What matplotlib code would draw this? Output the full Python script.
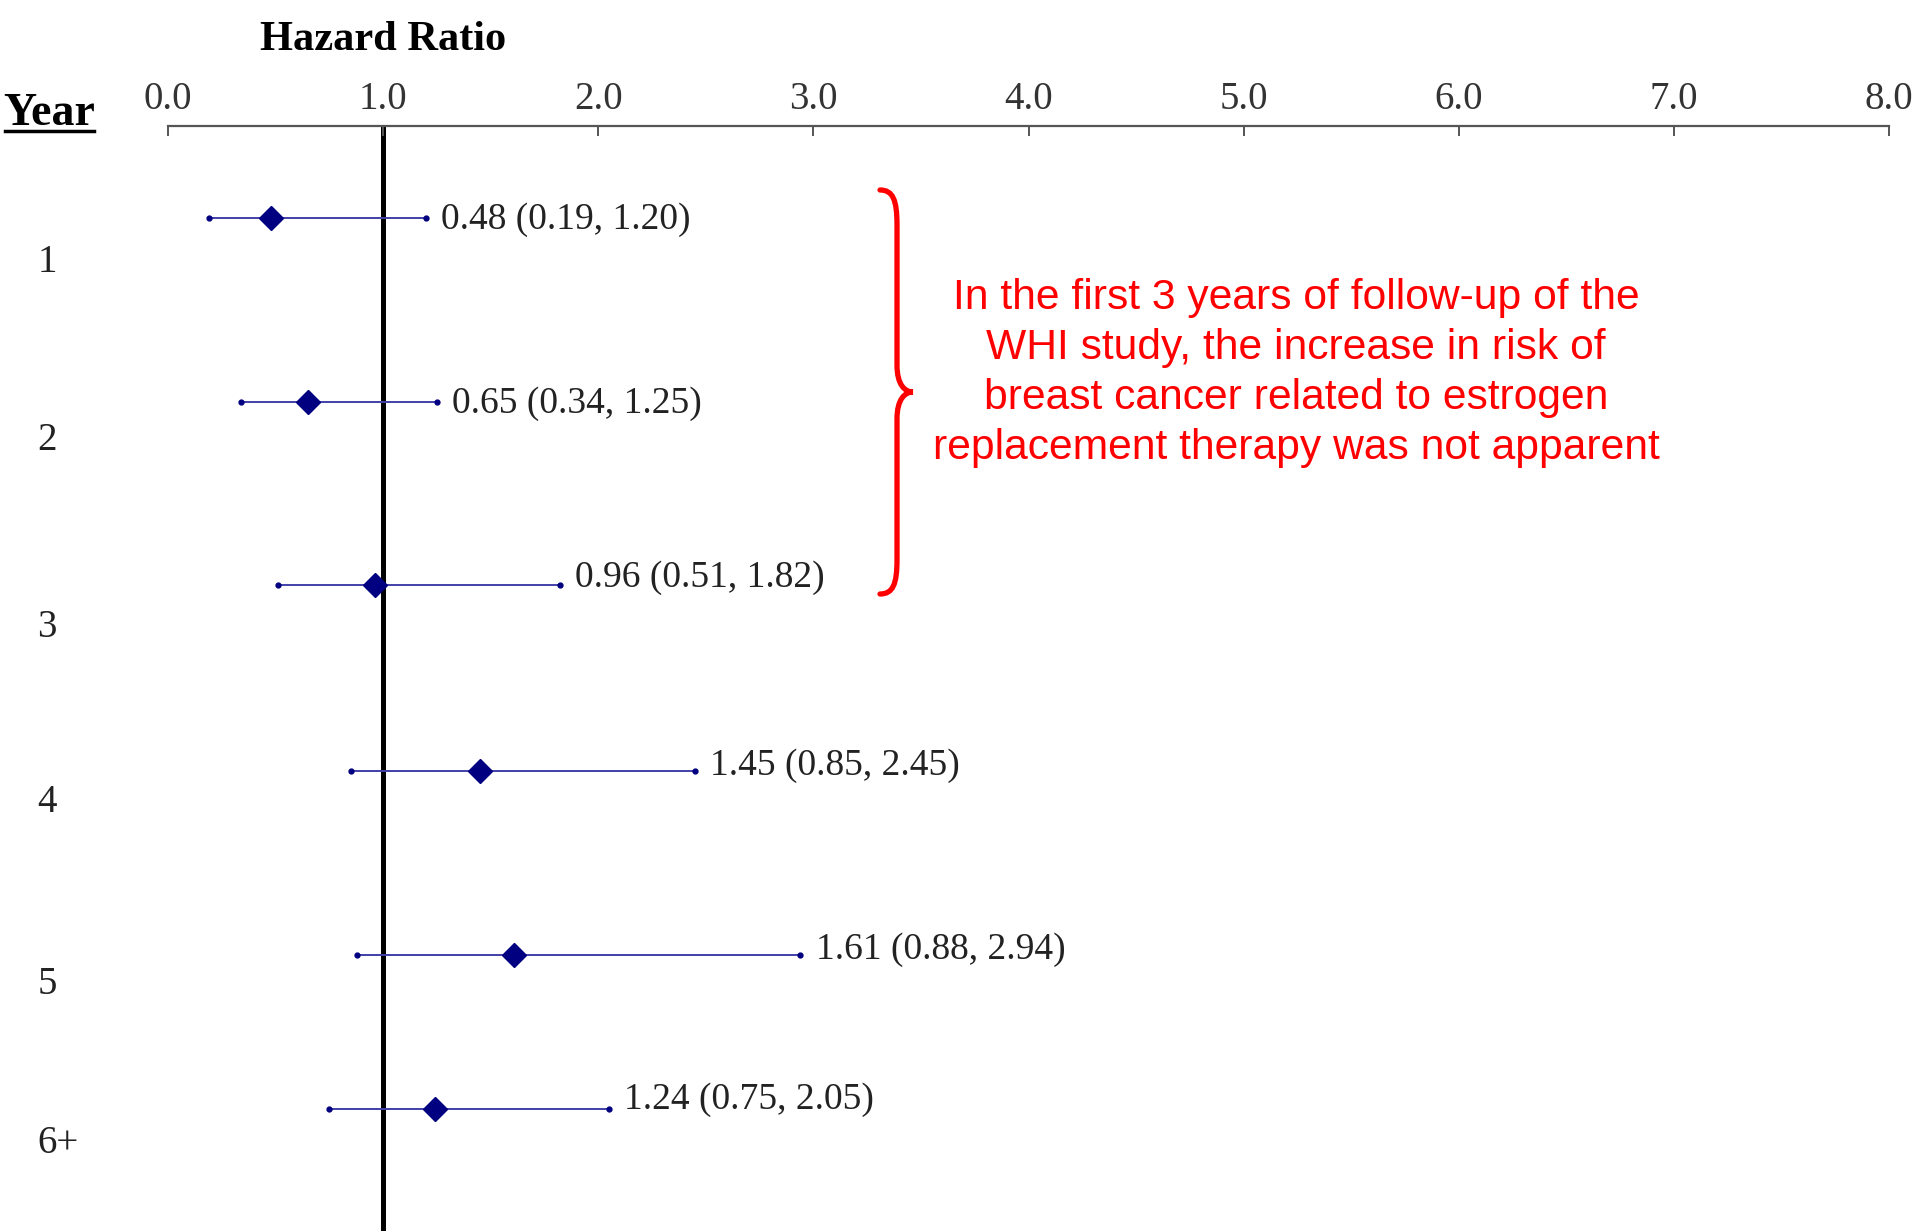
# Forest plot: WHI estrogen trial, breast cancer hazard ratio by year
import matplotlib
matplotlib.use("Agg")
import matplotlib.pyplot as plt
from matplotlib.path import Path
from matplotlib.patches import PathPatch
from matplotlib.lines import Line2D
from matplotlib.transforms import Affine2D

# ── data ───────────────────────────────────────────────
years = ["1", "2", "3", "4", "5", "6+"]
hr    = [0.48, 0.65, 0.96, 1.45, 1.61, 1.24]
lower = [0.19, 0.34, 0.51, 0.85, 0.88, 0.75]
upper = [1.20, 1.25, 1.82, 2.45, 2.94, 2.05]
x_ticks = [0, 1, 2, 3, 4, 5, 6, 7, 8]
note = ("In the first 3 years of follow-up of the\n"
        "WHI study, the increase in risk of\n"
        "breast cancer related to estrogen\n"
        "replacement therapy was not apparent")

# ── layout (row positions, label nudges) ───────────────
row_pos = [0, 1, 1.995, 3.005, 4.005, 4.84]
lab_dy  = [0.01, 0.01, -0.04, -0.03, -0.03, -0.05]
year_dy = [0.24, 0.21, 0.23, 0.17, 0.16, 0.19]

SERIF = "Liberation Serif"
SANS = "Liberation Sans"
NAVY = "#000080"
CI_COL = "#4040a8"

fig = plt.figure(figsize=(19.2, 12.31), dpi=100)
W, H = 1920, 1231
px = Affine2D().scale(1 / W, -1 / H).translate(0, 1) + fig.transFigure

ax = fig.add_axes([168 / W, 0, (1889 - 168) / W, 1 - 126 / H])
ax.set_xlim(0, 8)
ax.set_ylim(5.505, -0.5)

for i in range(len(years)):
    y = row_pos[i]
    ax.plot([lower[i], upper[i]], [y, y], color=CI_COL, lw=1.4, zorder=2)
    ax.plot([lower[i], upper[i]], [y, y], "o", color=NAVY, ms=3.5, zorder=3)
    ax.plot(hr[i], y, "D", color=NAVY, ms=12, zorder=4)
    ax.annotate(f"{hr[i]:.2f} ({lower[i]:.2f}, {upper[i]:.2f})",
                xy=(upper[i], y + lab_dy[i]), xytext=(11, 0),
                textcoords="offset points", ha="left", va="center",
                fontsize=27, family=SERIF, color="#222222")
    ax.text(-0.607, y + year_dy[i], years[i], ha="left", va="center",
            fontsize=28, family=SERIF, color="#222222", clip_on=False)

ax.axvline(1.0, color="black", lw=3.6, zorder=1)

# axis: top only, ticks pointing down
for s in ["left", "right", "bottom"]:
    ax.spines[s].set_visible(False)
ax.spines["top"].set_color("#555555")
ax.spines["top"].set_linewidth(1.6)
ax.xaxis.tick_top()
ax.set_xticks(x_ticks)
ax.set_xticklabels([f"{t:.1f}" for t in x_ticks], family=SERIF,
                   fontsize=28, color="#333333")
ax.tick_params(axis="x", direction="in", length=7, width=1.4,
               color="#555555", pad=6)
ax.set_yticks([])

# headers
fig.text(383 / W, 1 - 40 / H, "Hazard Ratio", ha="center", va="center",
         fontsize=30.5, fontweight="bold", family=SERIF)
fig.text(49 / W, 1 - 114 / H, "Year", ha="center", va="center",
         fontsize=33, fontweight="bold", family=SERIF)
fig.add_artist(Line2D([5, 94], [131, 131], transform=px, color="black", lw=2.5))

# red brace
verts = [(880, 190), (893, 190), (897, 200), (897, 225),
         (897, 365),
         (897, 385), (905, 392), (913, 392),
         (905, 392), (897, 399), (897, 419),
         (897, 560),
         (897, 584), (893, 594), (880, 594)]
codes = [Path.MOVETO, Path.CURVE4, Path.CURVE4, Path.CURVE4,
         Path.LINETO,
         Path.CURVE4, Path.CURVE4, Path.CURVE4,
         Path.CURVE4, Path.CURVE4, Path.CURVE4,
         Path.LINETO,
         Path.CURVE4, Path.CURVE4, Path.CURVE4]
fig.add_artist(PathPatch(Path(verts, codes), transform=px, fill=False,
                         edgecolor="#ff0000", lw=3.8, capstyle="round"))

fig.text(1296 / W, 1 - 373 / H, note, ha="center", va="center",
         multialignment="center", fontsize=30.7, family=SANS, color="#ff0000",
         linespacing=1.33)

fig.savefig("out.png", dpi=100)
